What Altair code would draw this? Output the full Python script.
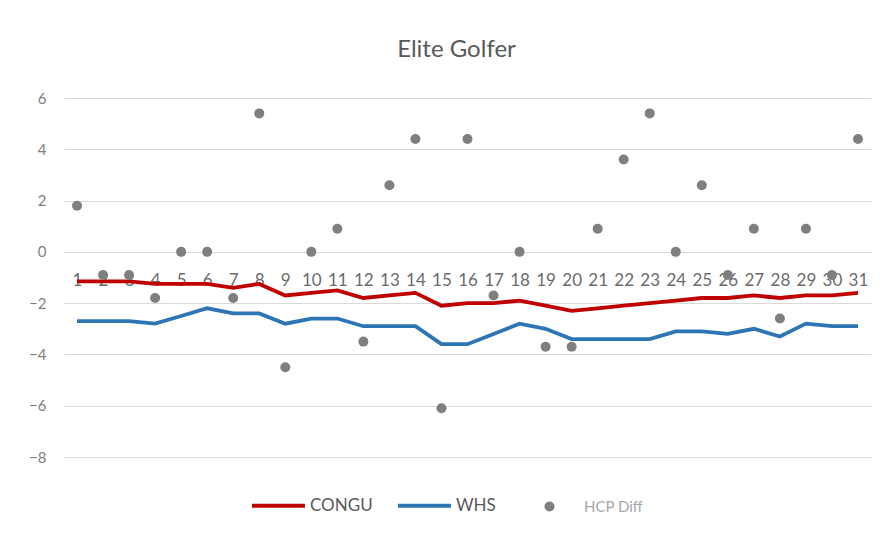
import altair as alt
import pandas as pd

rounds = list(range(1, 32))
congu = [-1.15, -1.15, -1.15, -1.25, -1.25, -1.25, -1.4, -1.25, -1.7, -1.6, -1.5,
         -1.8, -1.7, -1.6, -2.1, -2.0, -2.0, -1.9, -2.1, -2.3, -2.2, -2.1, -2.0,
         -1.9, -1.8, -1.8, -1.7, -1.8, -1.7, -1.7, -1.6]
whs = [-2.7, -2.7, -2.7, -2.8, -2.5, -2.2, -2.4, -2.4, -2.8, -2.6, -2.6, -2.9,
       -2.9, -2.9, -3.6, -3.6, -3.2, -2.8, -3.0, -3.4, -3.4, -3.4, -3.4, -3.1,
       -3.1, -3.2, -3.0, -3.3, -2.8, -2.9, -2.9]
hcp_diff = [1.8, -0.9, -0.9, -1.8, 0, 0, -1.8, 5.4, -4.5, 0, 0.9, -3.5, 2.6, 4.4,
            -6.1, 4.4, -1.7, 0, -3.7, -3.7, 0.9, 3.6, 5.4, 0, 2.6, -0.9, 0.9,
            -2.6, 0.9, -0.9, 4.4]
y_ticks = [-8, -6, -4, -2, 0, 2, 4, 6]

lines_df = pd.DataFrame({
    "round": rounds * 2,
    "value": congu + whs,
    "series": ["CONGU"] * len(rounds) + ["WHS"] * len(rounds),
})
pts_df = pd.DataFrame({"round": rounds, "value": hcp_diff, "series": ["HCP Diff"] * len(rounds)})

FONT = "Lato"
W, H = 807, 359

x_enc = alt.X(
    "round:O",
    title=None,
    scale=alt.Scale(paddingOuter=0.5),
    axis=alt.Axis(
        labelAngle=0, domain=False, ticks=False, labelPadding=19,
        labelFontSize=17, labelColor="#6b6b6b", labelFont=FONT,
        offset=-204, zindex=0, grid=False, labelOverlap=False,
    ),
)
y_enc = alt.Y(
    "value:Q",
    title=None,
    scale=alt.Scale(domain=[-8, 6], nice=False, zero=False),
    axis=alt.Axis(
        values=y_ticks, domain=False, ticks=False, labelPadding=18,
        labelFontSize=15, labelColor="#808080", labelFont=FONT,
        gridColor="#d9d9d9", gridWidth=1,
    ),
)

lines = alt.Chart(lines_df).mark_line(strokeWidth=3.8).encode(
    x=x_enc,
    y=y_enc,
    color=alt.Color(
        "series:N",
        scale=alt.Scale(domain=["CONGU", "WHS"], range=["#C00000", "#2E75B6"]),
        legend=alt.Legend(
            title=None, orient="none", direction="horizontal",
            legendX=186, legendY=379, symbolType="stroke", symbolSize=2800,
            symbolStrokeWidth=4, labelFontSize=17, labelColor="#595959",
            labelFont=FONT, labelOffset=3, columnPadding=17, padding=0,
        ),
    ),
)

points = alt.Chart(pts_df).mark_point(filled=True, size=100, opacity=1).encode(
    x=x_enc,
    y=y_enc,
    fill=alt.Fill(
        "series:N",
        scale=alt.Scale(domain=["HCP Diff"], range=["#7F7F7F"]),
        legend=alt.Legend(
            title=None, orient="none", direction="horizontal",
            legendX=478, legendY=401, symbolType="circle", symbolSize=100,
            symbolStrokeWidth=0, labelFontSize=15, labelColor="#A6A6A6",
            labelFont=FONT, labelOffset=27, padding=0,
        ),
    ),
)

chart = alt.layer(lines, points).properties(
    width=W,
    height=H,
    title=alt.Title("Elite Golfer", fontSize=24, font=FONT, fontWeight="normal",
                    color="#595959", anchor="middle", dx=-11, offset=29),
    autosize=alt.AutoSizeParams(type="none"),
    padding={"left": 56, "top": 90, "right": 12, "bottom": 70},
    background="white",
).configure_view(stroke=None)

chart.save("out.html", embed_options={"renderer": "svg", "actions": False})
